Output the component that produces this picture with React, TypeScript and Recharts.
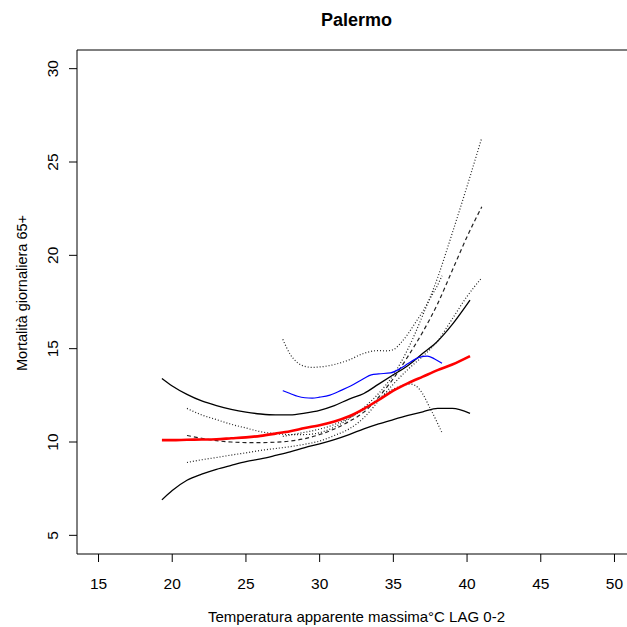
import { LineChart, Line, XAxis, YAxis, ReferenceLine } from "recharts";

// modello annuale: stima (rosso) e intervallo (nero)
const yearX = [19.3, 20, 21, 22, 23, 24, 25, 26, 27, 28, 29, 30, 31, 32, 33, 34, 35, 36, 37, 38, 39, 40.2];
const yearFit = [10.1, 10.1, 10.12, 10.13, 10.15, 10.2, 10.25, 10.33, 10.45, 10.58, 10.75, 10.9, 11.1, 11.38, 11.78, 12.25, 12.75, 13.15, 13.5, 13.85, 14.15, 14.6];
const yearUpper = [13.4, 13.0, 12.55, 12.2, 11.95, 11.75, 11.6, 11.5, 11.45, 11.45, 11.55, 11.7, 11.95, 12.3, 12.6, 13.1, 13.6, 14.1, 14.75, 15.4, 16.3, 17.6];
const yearLower = [6.9, 7.4, 7.95, 8.28, 8.54, 8.75, 8.95, 9.1, 9.28, 9.47, 9.7, 9.9, 10.13, 10.4, 10.7, 10.97, 11.2, 11.42, 11.62, 11.8, 11.8, 11.53];

// modello estivo: stima (blu) e intervallo (punteggiato)
const summerX = [27.5, 28, 28.5, 29, 29.5, 30, 30.7, 31.5, 32.1, 33, 33.5, 34, 34.8, 35.5, 36, 36.8, 37.3, 37.8, 38.3];
const summerFit = [12.75, 12.6, 12.45, 12.37, 12.35, 12.4, 12.51, 12.78, 13.0, 13.4, 13.6, 13.65, 13.7, 13.95, 14.2, 14.55, 14.6, 14.45, 14.22];
const summerUpX = [27.5, 28, 28.5, 29, 29.5, 30, 31, 32, 33, 34, 34.5, 35, 35.5, 36, 36.5, 37, 37.5, 38, 38.3];
const summerUp = [15.5, 14.7, 14.25, 14.05, 14.0, 14.02, 14.15, 14.4, 14.75, 14.9, 14.88, 14.95, 15.3, 15.8, 16.4, 17.0, 17.7, 18.4, 18.9];
const summerLowX = [27.5, 28.5, 29.5, 30.5, 31.5, 32.5, 33.5, 34.5, 35.5, 36.2, 36.8, 37.5, 38.3];
const summerLow = [10.3, 10.45, 10.6, 10.8, 11.1, 11.5, 12.0, 12.6, 13.0, 13.1, 12.8, 11.8, 10.5];

// terzo modello: stima (tratteggio) e intervallo (punteggiato)
const altX = [21, 22, 23, 24, 25, 26, 27, 28, 29, 30, 31, 32, 33, 34, 35, 36, 37, 38, 39, 40, 41];
const altFit = [10.35, 10.2, 10.07, 10.0, 9.97, 9.97, 9.99, 10.05, 10.18, 10.4, 10.7, 11.1, 11.6, 12.4, 13.4, 14.6, 15.9, 17.4, 19.2, 21.0, 22.6];
const altUpper = [11.8, 11.45, 11.2, 10.95, 10.75, 10.55, 10.45, 10.4, 10.4, 10.5, 10.8, 11.25, 11.85, 12.6, 13.6, 15.0, 16.8, 18.8, 21.2, 23.7, 26.3];
const altLower = [8.9, 9.05, 9.17, 9.3, 9.42, 9.55, 9.65, 9.75, 9.88, 10.05, 10.35, 10.7, 11.3, 12.2, 13.1, 13.9, 14.6, 15.4, 16.6, 17.8, 18.8];

const xTicks = [15, 20, 25, 30, 35, 40, 45, 50];
const yTicks = [5, 10, 15, 20, 25, 30];

const zip = (xs: number[], ys: number[]) => xs.map((x, i) => ({ x, y: ys[i] }));

const FONT = "'Liberation Sans', Arial, sans-serif";

function XTick({ x, y, payload }: any) {
  return (
    <text x={x} y={y + 25} textAnchor="middle" fontSize={15.5} fontFamily={FONT} fill="#000">
      {payload.value}
    </text>
  );
}

function YTick({ x, y, payload }: any) {
  const bx = x - 9;
  return (
    <text x={bx} y={y} transform={`rotate(-90, ${bx}, ${y})`} textAnchor="middle" fontSize={15.5} fontFamily={FONT} fill="#000">
      {payload.value}
    </text>
  );
}

export default function App() {
  const series = [
    { key: "yu", data: zip(yearX, yearUpper), stroke: "#000", width: 1.3, dash: undefined },
    { key: "yl", data: zip(yearX, yearLower), stroke: "#000", width: 1.3, dash: undefined },
    { key: "au", data: zip(altX, altUpper), stroke: "#222", width: 1.2, dash: "1 2" },
    { key: "al", data: zip(altX, altLower), stroke: "#222", width: 1.2, dash: "1 2" },
    { key: "af", data: zip(altX, altFit), stroke: "#222", width: 1.2, dash: "4 3" },
    { key: "su", data: zip(summerUpX, summerUp), stroke: "#222", width: 1.2, dash: "1 2" },
    { key: "sl", data: zip(summerLowX, summerLow), stroke: "#222", width: 1.2, dash: "1 2" },
    { key: "sf", data: zip(summerX, summerFit), stroke: "#0000ff", width: 1.2, dash: undefined },
    { key: "yf", data: zip(yearX, yearFit), stroke: "#ff0000", width: 2.6, dash: undefined },
  ];

  return (
    <div style={{ position: "fixed", left: 0, top: 0, width: 627, height: 627, overflow: "hidden", background: "#fff" }}>
      <div
        style={{
          position: "absolute",
          left: 77,
          width: 559,
          top: 11,
          lineHeight: "18px",
          fontSize: 18,
          fontWeight: "bold",
          fontFamily: FONT,
          textAlign: "center",
        }}
      >
        Palermo
      </div>
      <LineChart width={640} height={627} margin={{ top: 50, right: 4, bottom: 0, left: 0 }}>
        <XAxis
          type="number"
          dataKey="x"
          domain={[13.54, 51.46]}
          allowDataOverflow
          ticks={xTicks}
          height={73}
          tickSize={8}
          tickMargin={2}
          stroke="#000"
          tick={<XTick />}
          label={{
            content: ({ viewBox }: any) => (
              <text
                x={viewBox.x + viewBox.width / 2}
                y={viewBox.y + 68}
                textAnchor="middle"
                fontSize={15}
                fontFamily={FONT}
                fill="#000"
              >
                Temperatura apparente massima°C LAG 0-2
              </text>
            ),
          }}
        />
        <YAxis
          type="number"
          domain={[4, 31]}
          allowDataOverflow
          ticks={yTicks}
          width={77}
          tickSize={8}
          tickMargin={2}
          stroke="#000"
          tick={<YTick />}
          label={{
            content: ({ viewBox }: any) => {
              const cx = 27;
              const cy = viewBox.y + viewBox.height / 2 - 9;
              return (
                <text x={cx} y={cy} transform={`rotate(-90, ${cx}, ${cy})`} textAnchor="middle" fontSize={14.5} fontFamily={FONT} fill="#000">
                  Mortalità giornaliera 65+
                </text>
              );
            },
          }}
        />
        <ReferenceLine y={31} stroke="#000" strokeWidth={1} />
        {series.map((s) => (
          <Line
            key={s.key}
            data={s.data}
            dataKey="y"
            type="monotone"
            stroke={s.stroke}
            strokeWidth={s.width}
            strokeDasharray={s.dash}
            dot={false}
            activeDot={false}
            isAnimationActive={false}
          />
        ))}
      </LineChart>
    </div>
  );
}
